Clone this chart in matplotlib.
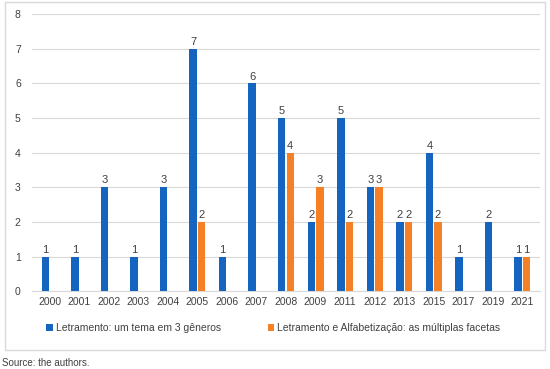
import numpy as np
import matplotlib.pyplot as plt
from matplotlib.patches import Rectangle

# data
years = ['2000', '2001', '2002', '2003', '2004', '2005', '2006', '2007', '2008',
         '2009', '2011', '2012', '2013', '2015', '2017', '2019', '2021']
letramento = [1, 1, 3, 1, 3, 7, 1, 6, 5, 2, 5, 3, 2, 4, 1, 2, 1]
alfabetizacao = [np.nan, np.nan, np.nan, np.nan, np.nan, 2, np.nan, np.nan, 4,
                 3, 2, 3, 2, 2, np.nan, np.nan, 1]
labels = ['Letramento: um tema em 3 gêneros',
          'Letramento e Alfabetização: as múltiplas facetas']

plt.rcParams['font.family'] = ['Liberation Sans', 'DejaVu Sans']

fig = plt.figure(figsize=(5.5, 3.69), dpi=100)
ax = fig.add_axes([0.058, 0.211, 0.924, 0.751])

# outer frame
fig.patches.append(Rectangle((0.009, 0.052), 0.982, 0.943, transform=fig.transFigure,
                             fill=False, edgecolor='#d9d9d9', lw=1))

x = np.arange(len(years))
w = 0.25
b1 = ax.bar(x - 0.145, letramento, w, color='#1565c0', label=labels[0], zorder=3)
b2 = ax.bar(x + 0.145, alfabetizacao, w, color='#f58025', label=labels[1], zorder=3)

for bars, vals in ((b1, letramento), (b2, alfabetizacao)):
    for r, v in zip(bars, vals):
        if np.isnan(v):
            continue
        ax.text(r.get_x() + r.get_width() / 2, v + 0.05, '%d' % v, ha='center',
                va='bottom', fontsize=8, color='#404040')

ax.set_ylim(0, 8)
ax.set_xlim(-0.6, len(years) - 0.4)
ax.set_yticks(range(9))
ax.set_xticks(x)
ax.set_xticklabels(years)
ax.tick_params(length=0, labelsize=7.5, colors='#404040', pad=4)
ax.tick_params(axis='y', pad=8)
ax.grid(axis='y', color='#d9d9d9', lw=0.8, zorder=0)
for s in ['top', 'right', 'left']:
    ax.spines[s].set_visible(False)
ax.spines['bottom'].set_color('#d9d9d9')

fig.legend(loc='center', bbox_to_anchor=(0.497, 0.111), ncol=2, frameon=False,
           fontsize=7.5, handlelength=0.6, handleheight=0.6, handletextpad=0.3,
           columnspacing=4.5, labelcolor='#404040')

fig.text(0.004, 0.008, 'Source: the authors.', fontsize=7, color='#404040')

fig.savefig('out.png', dpi=100)
